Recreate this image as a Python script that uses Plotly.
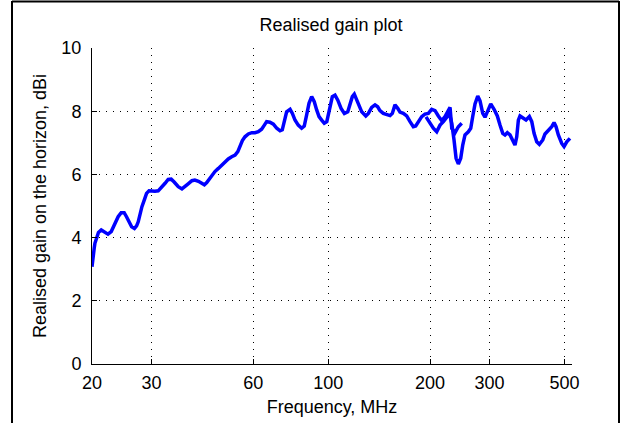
import math
import plotly.graph_objects as go

# Lower band sweep (MHz, dBi)
freq_a = [20.0, 20.1, 20.3, 20.4, 20.65, 20.9, 21.3, 21.6, 22.0, 22.3, 22.8, 23.1, 23.5, 23.9,
          24.4, 24.9, 25.3, 25.7, 26.2, 26.7, 27.1, 27.4, 27.7, 28.1, 28.6, 29.0, 29.5, 30.0,
          30.7, 31.4, 32.2, 32.9, 33.6, 34.3, 35.0, 36.0, 36.9, 37.7, 38.5, 39.5, 40.3, 41.3,
          42.2, 43.0, 43.7, 44.4, 45.2, 46.2, 47.3, 48.4, 49.5, 50.6, 51.8, 53.0, 54.0, 54.8,
          55.7, 56.7, 58.0, 59.4, 60.7, 62.1, 63.5, 64.7, 65.7, 67.2, 68.8, 70.4, 72.0, 73.1,
          74.1, 75.3, 77.1, 78.3, 79.7, 81.5, 83.4, 84.9, 86.3, 87.7, 89.3, 90.9, 92.4, 93.9,
          95.6, 97.3, 99.0, 100.0, 101.2, 102.8, 104.7, 106.7, 109.1, 111.6, 114.2, 115.9,
          117.8, 119.4, 121.4, 123.3, 125.6, 129.1, 131.4, 134.4, 137.5, 140.0, 142.2, 145.5,
          148.9, 152.3, 154.7, 157.5, 160.5, 163.0, 166.7, 170.6, 174.5, 178.5, 181.4, 184.7,
          189.0, 193.2, 197.7, 202.3, 206.9, 211.6, 216.6, 221.5, 226.6, 229.2, 231.9, 237.1,
          242.5, 248.2]
gain_a = [3.08, 3.40, 3.66, 3.82, 4.03, 4.16, 4.24, 4.19, 4.14, 4.11, 4.19, 4.34, 4.50, 4.66,
          4.79, 4.79, 4.66, 4.50, 4.34, 4.29, 4.37, 4.50, 4.77, 4.98, 5.21, 5.40, 5.48, 5.47,
          5.47, 5.48, 5.59, 5.72, 5.84, 5.85, 5.76, 5.61, 5.54, 5.61, 5.70, 5.80, 5.82, 5.78,
          5.72, 5.67, 5.74, 5.85, 5.98, 6.09, 6.19, 6.30, 6.40, 6.49, 6.56, 6.61, 6.72, 6.90,
          7.07, 7.19, 7.28, 7.32, 7.32, 7.35, 7.43, 7.56, 7.67, 7.65, 7.59, 7.46, 7.38, 7.41,
          7.72, 7.98, 8.06, 7.93, 7.72, 7.56, 7.46, 7.53, 7.88, 8.25, 8.46, 8.30, 8.04, 7.83,
          7.72, 7.62, 7.67, 7.88, 8.20, 8.46, 8.51, 8.35, 8.09, 7.93, 7.98, 8.20,
          8.46, 8.54, 8.35, 8.14, 7.98, 7.85, 7.93, 8.12, 8.20, 8.14, 8.02, 7.93,
          7.90, 7.86, 7.93, 8.20, 8.09, 7.97, 7.93, 7.85, 7.67, 7.51, 7.53, 7.67,
          7.83, 7.91, 7.93, 8.06, 8.02, 7.85, 7.70, 7.83, 8.04, 8.12, 7.46, 7.32,
          7.51, 7.62]

# Upper band sweep (MHz, dBi)
freq_b = [194.6, 200.0, 204.5, 209.3, 214.1, 219.0, 224.6, 227.7, 231.9, 235.5, 238.8, 242.5,
          246.5, 249.9, 253.8, 259.6, 263.9, 267.5, 271.7, 276.8, 281.1, 286.4, 290.8, 295.5,
          302.4, 309.3, 316.3, 322.1, 328.2, 333.3, 338.6, 344.8, 351.3, 356.7, 361.0, 365.0,
          369.1, 376.1, 384.6, 393.4, 399.9, 406.2, 413.7, 421.1, 431.0, 437.6, 447.7, 458.2,
          465.5, 471.8, 479.3, 490.5, 498.3, 507.5, 518.8]
gain_b = [7.82, 7.62, 7.46, 7.35, 7.56, 7.67, 7.82, 7.97, 7.62, 7.09, 6.51, 6.33,
          6.51, 6.93, 7.25, 7.35, 7.46, 7.83, 8.23, 8.48, 8.33, 7.93, 7.81, 7.98,
          8.23, 8.06, 7.85, 7.56, 7.30, 7.25, 7.32, 7.25, 7.09, 6.93, 7.19, 7.72,
          7.85, 7.78, 7.72, 7.83, 7.67, 7.30, 7.03, 6.95, 7.09, 7.28, 7.38, 7.51,
          7.64, 7.51, 7.25, 6.98, 6.88, 7.03, 7.14]

x_ticks = [20, 30, 60, 100, 200, 300, 500]
y_ticks = [0, 2, 4, 6, 8, 10]
x_range = [20, 526]
y_range = [0, 10]

title_text = "Realised gain plot"
x_title = "Frequency, MHz"
y_title = "Realised gain on the horizon, dBi"

FONT = "Liberation Sans, Arial, sans-serif"
FS = 18
BLUE = "#0000FF"

fig = go.Figure()
for fx, gy in ((freq_a, gain_a), (freq_b, gain_b)):
    fig.add_trace(go.Scatter(x=fx, y=gy, mode="lines",
                             line=dict(color=BLUE, width=3.5), showlegend=False,
                             hoverinfo="skip"))

axis_common = dict(
    showline=True, linecolor="black", linewidth=1, mirror=False,
    ticks="inside", ticklen=5, tickcolor="black", tickwidth=1,
    showgrid=True, gridcolor="black", gridwidth=1, griddash="1px,6px",
    zeroline=False, automargin=False,
    tickfont=dict(family=FONT, size=FS, color="black"),
)

fig.update_xaxes(type="log", range=[math.log10(v) for v in x_range],
                 tickvals=x_ticks, ticktext=[str(v) for v in x_ticks],
                 ticklabelstandoff=2,
                 title=dict(text=x_title, font=dict(family=FONT, size=FS, color="black"),
                            standoff=8),
                 **axis_common)
fig.update_yaxes(range=y_range, tickvals=y_ticks,
                 ticklabelstandoff=6,
                 title=dict(text=y_title, font=dict(family=FONT, size=FS, color="black"),
                            standoff=10),
                 **axis_common)

W, H = 624, 423
ml, mr, mt, mb = 92, 52, 48, 59
pw, ph = W - ml - mr, H - mt - mb

def px(xp):
    return (xp - ml) / pw

def py(yp):
    return (H - mb - yp) / ph

frame = dict(color="black", width=2)
fig.add_shape(type="line", xref="paper", yref="paper", x0=px(12), x1=px(12), y0=py(1), y1=py(430), line=frame)
fig.add_shape(type="line", xref="paper", yref="paper", x0=px(619), x1=px(619), y0=py(1), y1=py(430), line=frame)
fig.add_shape(type="line", xref="paper", yref="paper", x0=px(12), x1=px(619), y0=py(1.5), y1=py(1.5), line=frame)

fig.update_layout(
    width=W, height=H,
    margin=dict(l=ml, r=mr, t=mt, b=mb),
    paper_bgcolor="white", plot_bgcolor="white",
    title=dict(text=title_text, x=331 / W, xref="container", xanchor="center",
               y=1 - 25 / H, yanchor="middle",
               font=dict(family=FONT, size=FS, color="black")),
    font=dict(family=FONT, size=FS, color="black"),
)

fig.write_html("out.html", config={"displayModeBar": False},
               post_script="document.body.style.margin='0';document.body.style.overflow='hidden';")
